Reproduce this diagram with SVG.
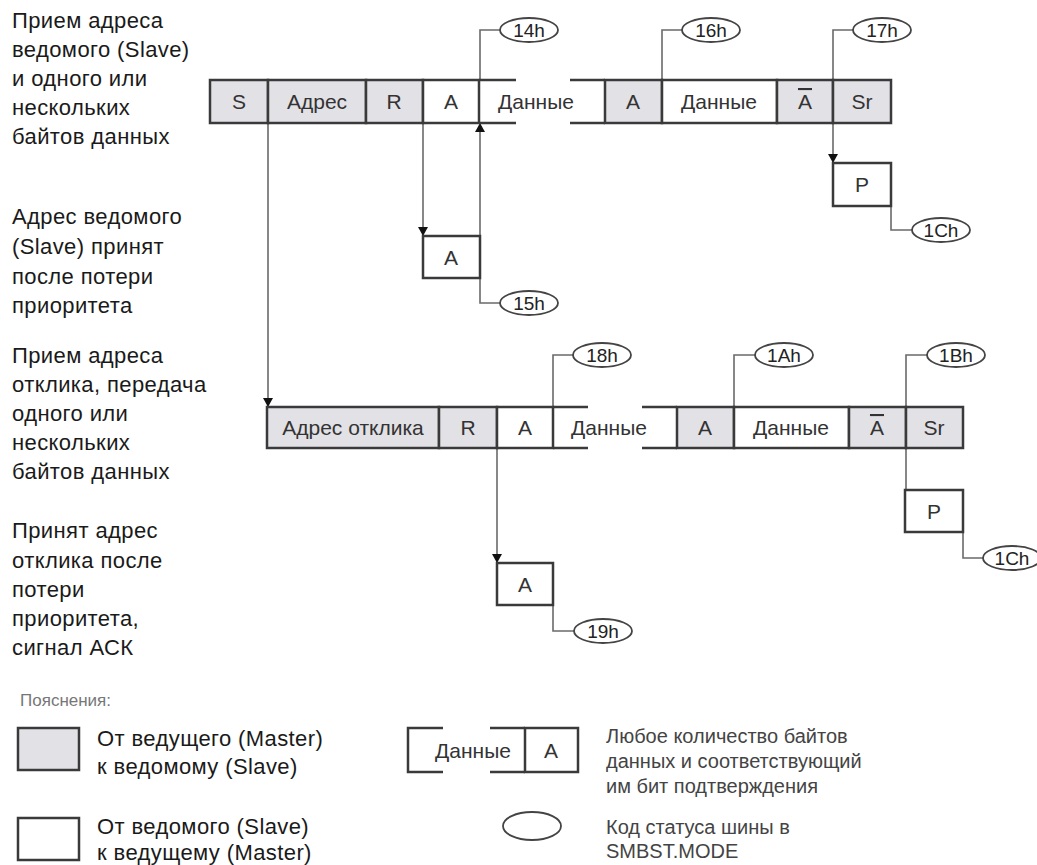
<svg xmlns="http://www.w3.org/2000/svg" width="1037" height="865" viewBox="0 0 1037 865">
<style>
.t{font-family:"Liberation Sans",Arial,sans-serif;font-size:22px;fill:#1a1a1a;letter-spacing:0.4px}
.c{font-family:"Liberation Sans",Arial,sans-serif;font-size:21px;fill:#333;text-anchor:middle}
.e{font-family:"Liberation Sans",Arial,sans-serif;font-size:19px;fill:#222;text-anchor:middle}
.l{font-family:"Liberation Sans",Arial,sans-serif;font-size:20px;fill:#444}
.g{fill:#e2e1e6;stroke:#3a3a3a;stroke-width:2.5}
.w{fill:#fff;stroke:#3a3a3a;stroke-width:2.5}
.b{fill:none;stroke:#3a3a3a;stroke-width:2.5}
.k{fill:none;stroke:#6a6a6a;stroke-width:1.6}
.o{fill:#fff;stroke:#444;stroke-width:1.8}
.ov{text-decoration:overline}
</style>
<defs>
<marker id="ah" markerUnits="userSpaceOnUse" markerWidth="10" markerHeight="10" refX="9" refY="5" orient="auto" viewBox="0 0 10 10">
<path d="M0,0 L9,5 L0,10 Z" fill="#111"/>
</marker>
</defs>

<g id="labels">
<text class="t" x="12" y="28">Прием адреса</text>
<text class="t" x="12" y="57">ведомого (Slave)</text>
<text class="t" x="12" y="86">и одного или</text>
<text class="t" x="12" y="115">нескольких</text>
<text class="t" x="12" y="144">байтов данных</text>
<text class="t" x="12" y="224">Адрес ведомого</text>
<text class="t" x="12" y="254">(Slave) принят</text>
<text class="t" x="12" y="284">после потери</text>
<text class="t" x="12" y="313">приоритета</text>
<text class="t" x="12" y="363">Прием адреса</text>
<text class="t" x="12" y="392">отклика, передача</text>
<text class="t" x="12" y="421">одного или</text>
<text class="t" x="12" y="450">нескольких</text>
<text class="t" x="12" y="479">байтов данных</text>
<text class="t" x="12" y="538">Принят адрес</text>
<text class="t" x="12" y="568">отклика после</text>
<text class="t" x="12" y="597">потери</text>
<text class="t" x="12" y="626">приоритета,</text>
<text class="t" x="12" y="655">сигнал АСК</text>
</g>

<g id="connectors">
<path class="k" d="M480,80 V30 H500"/>
<path class="k" d="M662,80 V30 H682"/>
<path class="k" d="M833,80 V30 H853"/>
<path class="k" d="M833,123 V163" marker-end="url(#ah)"/>
<path class="k" d="M423,123 V236" marker-end="url(#ah)"/>
<path class="k" d="M480,236 V123" marker-end="url(#ah)"/>
<path class="k" d="M268,123 V407" marker-end="url(#ah)"/>
<path class="k" d="M480,278 V303 H500"/>
<path class="k" d="M891,206 V230 H912"/>
<path class="k" d="M553,407 V355 H573"/>
<path class="k" d="M734,407 V355 H755"/>
<path class="k" d="M906,407 V355 H927"/>
<path class="k" d="M906,448 V490"/>
<path class="k" d="M497,448 V563" marker-end="url(#ah)"/>
<path class="k" d="M553,605 V631 H575"/>
<path class="k" d="M963,532 V558 H983"/>
</g>

<g id="row1">
<rect class="g" x="210" y="80" width="58" height="43"/>
<rect class="g" x="268" y="80" width="98" height="43"/>
<rect class="g" x="366" y="80" width="57" height="43"/>
<rect class="w" x="423" y="80" width="56" height="43"/>
<path class="b" d="M479,80 H516 M479,123 H516 M570,80 H605 M570,123 H605"/>
<rect class="g" x="605" y="80" width="57" height="43"/>
<rect class="w" x="662" y="80" width="115" height="43"/>
<rect class="g" x="777" y="80" width="56" height="43"/>
<rect class="g" x="833" y="80" width="58" height="43"/>
<text class="c" x="239" y="109">S</text>
<text class="c" x="317" y="109">Адрес</text>
<text class="c" x="394" y="109">R</text>
<text class="c" x="451" y="109">A</text>
<text class="c" x="536" y="109">Данные</text>
<text class="c" x="633" y="109">A</text>
<text class="c" x="719" y="109">Данные</text>
<text class="c ov" x="805" y="109">A</text>
<text class="c" x="862" y="109">Sr</text>
</g>

<g id="s14"><ellipse class="o" cx="529" cy="30" rx="29" ry="12"/><text class="e" x="529" y="37">14h</text></g>
<g id="s16"><ellipse class="o" cx="711" cy="30" rx="29" ry="12"/><text class="e" x="711" y="37">16h</text></g>
<g id="s17"><ellipse class="o" cx="882" cy="30" rx="29" ry="12"/><text class="e" x="882" y="37">17h</text></g>

<g id="p1"><rect class="w" x="833" y="163" width="58" height="43"/><text class="c" x="862" y="192">P</text></g>
<g id="s1c"><ellipse class="o" cx="941" cy="230" rx="29" ry="12"/><text class="e" x="941" y="237">1Ch</text></g>

<g id="a1"><rect class="w" x="423" y="236" width="57" height="42"/><text class="c" x="451" y="265">A</text></g>
<g id="s15"><ellipse class="o" cx="529" cy="303" rx="29" ry="12"/><text class="e" x="529" y="310">15h</text></g>

<g id="row2">
<rect class="g" x="267" y="407" width="172" height="41"/>
<rect class="g" x="439" y="407" width="58" height="41"/>
<rect class="w" x="497" y="407" width="56" height="41"/>
<path class="b" d="M553,407 H588 M553,448 H588 M642,407 H677 M642,448 H677"/>
<rect class="g" x="677" y="407" width="57" height="41"/>
<rect class="w" x="734" y="407" width="115" height="41"/>
<rect class="g" x="849" y="407" width="57" height="41"/>
<rect class="g" x="906" y="407" width="57" height="41"/>
<text class="c" x="353" y="435">Адрес отклика</text>
<text class="c" x="468" y="435">R</text>
<text class="c" x="525" y="435">A</text>
<text class="c" x="609" y="435">Данные</text>
<text class="c" x="705" y="435">A</text>
<text class="c" x="791" y="435">Данные</text>
<text class="c ov" x="877" y="435">A</text>
<text class="c" x="934" y="435">Sr</text>
</g>

<g id="s18"><ellipse class="o" cx="602" cy="355" rx="29" ry="12"/><text class="e" x="602" y="362">18h</text></g>
<g id="s1a"><ellipse class="o" cx="784" cy="355" rx="29" ry="12"/><text class="e" x="784" y="362">1Ah</text></g>
<g id="s1b"><ellipse class="o" cx="956" cy="355" rx="29" ry="12"/><text class="e" x="956" y="362">1Bh</text></g>

<g id="p2"><rect class="w" x="905" y="490" width="58" height="42"/><text class="c" x="934" y="519">P</text></g>
<g id="s1c2"><ellipse class="o" cx="1012" cy="558" rx="29" ry="12"/><text class="e" x="1012" y="565">1Ch</text></g>

<g id="a2"><rect class="w" x="497" y="563" width="56" height="42"/><text class="c" x="525" y="592">A</text></g>
<g id="s19"><ellipse class="o" cx="603" cy="631" rx="29" ry="12"/><text class="e" x="603" y="638">19h</text></g>

<g id="legend">
<text x="20" y="706" style="font-family:'Liberation Sans',Arial,sans-serif;font-size:17px;fill:#777">Пояснения:</text>
<rect class="g" x="18" y="728" width="61" height="42"/>
<text class="t" x="97" y="746">От ведущего (Master)</text>
<text class="t" x="97" y="774">к ведомому (Slave)</text>
<rect class="w" x="18" y="818" width="61" height="42"/>
<text class="t" x="97" y="834">От ведомого (Slave)</text>
<text class="t" x="97" y="860">к ведущему (Master)</text>
<path class="b" d="M443,728 H408 V772 H443 M490,728 H525 M490,772 H525"/>
<rect class="w" x="525" y="728" width="53" height="44"/>
<text class="c" x="473" y="758">Данные</text>
<text class="c" x="551" y="758">A</text>
<text class="l" x="606" y="743">Любое количество байтов</text>
<text class="l" x="606" y="768">данных и соответствующий</text>
<text class="l" x="606" y="793">им бит подтверждения</text>
<ellipse class="o" cx="532" cy="826" rx="29" ry="14"/>
<text class="l" x="606" y="834">Код статуса шины в</text>
<text class="l" x="606" y="858">SMBST.MODE</text>
</g>
</svg>
